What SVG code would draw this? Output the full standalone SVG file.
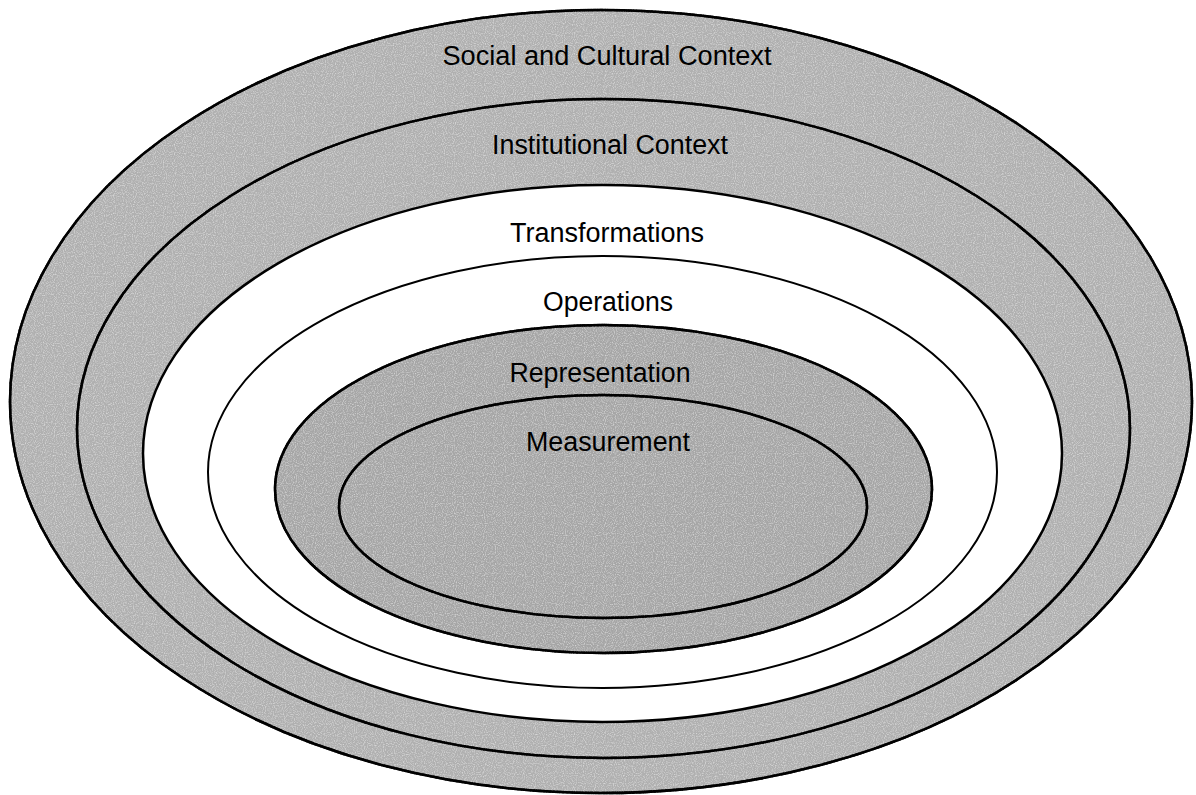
<svg xmlns="http://www.w3.org/2000/svg" width="1196" height="795" viewBox="0 0 1196 795">
  <style>
    .ring { stroke: #000; stroke-width: 2.5; }
    .gray { fill: #b0b0b0; }
    .dark { fill: #a6a6a6; }
    .white { fill: #ffffff; }
    .lbl { font-family: "Liberation Sans", Arial, sans-serif; font-size: 27px; fill: #000; }
  </style>
  <defs>
    <filter id="noise" x="0" y="0" width="100%" height="100%" filterUnits="userSpaceOnUse">
      <feTurbulence type="fractalNoise" baseFrequency="0.9" numOctaves="1" seed="3" result="n"/>
      <feColorMatrix in="n" type="matrix" values="0 0 0 0 1  0 0 0 0 1  0 0 0 0 1  1.2 0 0 0 -0.55" result="w"/>
      <feComposite in="w" in2="SourceGraphic" operator="atop"/>
    </filter>
  </defs>
  <rect width="1196" height="795" fill="#ffffff"/>
  <g id="social-cultural-context">
    <ellipse class="ring gray" cx="601" cy="401.5" rx="591" ry="391.5" filter="url(#noise)"/>
    <ellipse cx="601" cy="401.5" rx="591" ry="391.5" fill="none" stroke="#000" stroke-width="2.5"/>
    <text class="lbl" x="607" y="65" text-anchor="middle" textLength="329" lengthAdjust="spacingAndGlyphs">Social and Cultural Context</text>
  </g>
  <g id="institutional-context">
    <ellipse class="ring gray" cx="603.5" cy="428.5" rx="526.5" ry="329.5" filter="url(#noise)"/>
    <ellipse cx="603.5" cy="428.5" rx="526.5" ry="329.5" fill="none" stroke="#000" stroke-width="2.5"/>
    <text class="lbl" x="610" y="154" text-anchor="middle" textLength="236" lengthAdjust="spacingAndGlyphs">Institutional Context</text>
  </g>
  <g id="transformations">
    <ellipse class="ring white" cx="602.5" cy="453.5" rx="459.5" ry="268.5"/>
    <text class="lbl" x="607" y="242" text-anchor="middle" textLength="194" lengthAdjust="spacingAndGlyphs">Transformations</text>
  </g>
  <g id="operations">
    <ellipse class="white" cx="602.5" cy="472" rx="394.5" ry="216" stroke="#000" stroke-width="2"/>
    <text class="lbl" x="608" y="311" text-anchor="middle" textLength="130" lengthAdjust="spacingAndGlyphs">Operations</text>
  </g>
  <g id="representation">
    <ellipse class="ring dark" cx="603.5" cy="489" rx="328.5" ry="164" filter="url(#noise)"/>
    <ellipse cx="603.5" cy="489" rx="328.5" ry="164" fill="none" stroke="#000" stroke-width="2.5"/>
    <text class="lbl" x="600" y="382" text-anchor="middle" textLength="181" lengthAdjust="spacingAndGlyphs">Representation</text>
  </g>
  <g id="measurement">
    <ellipse class="ring dark" cx="603" cy="506.5" rx="264" ry="111.5" filter="url(#noise)"/>
    <ellipse cx="603" cy="506.5" rx="264" ry="111.5" fill="none" stroke="#000" stroke-width="2.5"/>
    <text class="lbl" x="608" y="451" text-anchor="middle" textLength="164" lengthAdjust="spacingAndGlyphs">Measurement</text>
  </g>
  <g id="connectors"></g>
</svg>
